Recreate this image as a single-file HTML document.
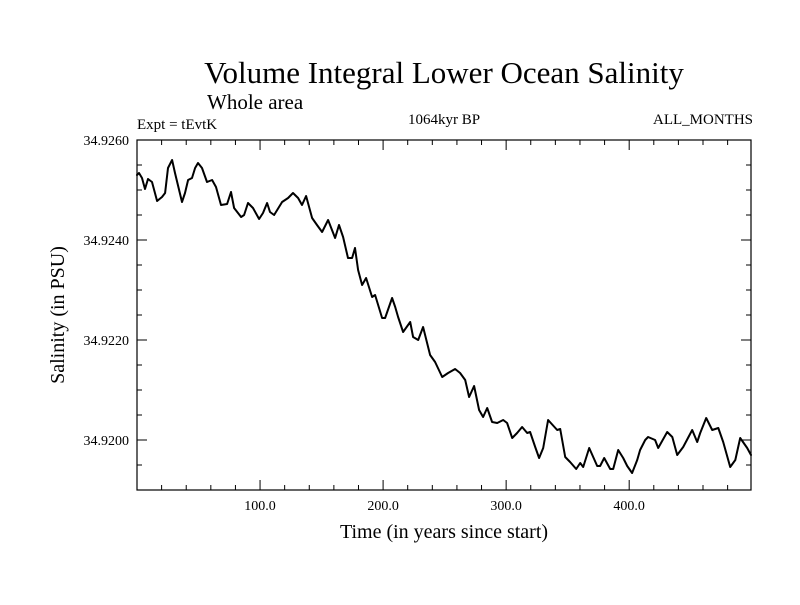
<!DOCTYPE html>
<html><head><meta charset="utf-8"><style>
body{margin:0;background:#fff}
svg text{font-family:"Liberation Serif",serif;fill:#000}
</style></head><body>
<svg id="chart" width="800" height="600">
<text x="444" y="83" font-size="31" text-anchor="middle">Volume Integral Lower Ocean Salinity</text>
<text x="207" y="109" font-size="21">Whole area</text>
<text x="137" y="129" font-size="15">Expt = tEvtK</text>
<text x="444" y="124" font-size="15" text-anchor="middle">1064kyr BP</text>
<text x="753" y="124" font-size="15" text-anchor="end">ALL_MONTHS</text>
<text x="444" y="538" font-size="20" text-anchor="middle">Time (in years since start)</text>
<text transform="translate(64,315) rotate(-90)" font-size="20" text-anchor="middle">Salinity (in PSU)</text>
<g id="axes"></g>
<path id="line" fill="none" stroke="#000" stroke-width="2" stroke-linejoin="round" stroke-linecap="round"/>
</svg>
<script>
const years=[0,1.6,4.1,6.5,8.9,12.2,16.3,20.3,22.8,25.2,28.5,30.9,36.6,39,41.5,44.7,47.2,49.6,52.8,56.9,61,64.2,68.3,73.2,76.4,78.9,84.6,87,90.2,94.3,99.2,102.4,105.7,108.1,111.4,117.9,122.8,126.8,130.9,134.1,137.4,142.3,146.3,150.4,155.3,161,164.2,167.5,171.5,174.8,177.2,179.7,182.9,186.2,191.1,193.5,199.2,201.6,207.3,209.8,212.2,216.3,222,224.4,228.5,232.5,238.2,242.3,248,252.8,258.5,262.6,266.7,269.9,274,278,281.3,284.6,288.6,292.7,297.6,300.8,304.9,308.9,313,317.1,319.5,323.6,326.8,330.1,334.1,341.5,343.9,348,352,356.9,360.2,362.6,367.5,374,376.4,379.7,384.6,387,391.1,395.1,398.4,402.4,406.5,408.9,413,415.4,421.1,423.6,430.9,435,439,443.9,451.2,455.3,457.7,462.6,467.5,472.4,476.4,482.1,486.2,490.2,495.9,499];
const salinity=[34.9253,34.92534,34.92524,34.92502,34.92522,34.92516,34.92478,34.92486,34.92494,34.92544,34.9256,34.92534,34.92476,34.92494,34.9252,34.92524,34.92544,34.92554,34.92544,34.92516,34.9252,34.92506,34.9247,34.92472,34.92496,34.92464,34.92446,34.9245,34.92474,34.92464,34.92442,34.92454,34.92474,34.92456,34.9245,34.92476,34.92484,34.92494,34.92484,34.9247,34.92488,34.92444,34.9243,34.92416,34.9244,34.92404,34.9243,34.92406,34.92364,34.92364,34.92384,34.9234,34.9231,34.92324,34.92286,34.9229,34.92244,34.92244,34.92284,34.92266,34.92246,34.92216,34.92236,34.92206,34.922,34.92226,34.9217,34.92156,34.92126,34.92134,34.92142,34.92134,34.9212,34.92086,34.92108,34.9206,34.92046,34.92064,34.92036,34.92034,34.9204,34.92034,34.92004,34.92014,34.92026,34.92014,34.92016,34.91986,34.91964,34.91984,34.9204,34.9202,34.92022,34.91966,34.91956,34.91942,34.91954,34.91946,34.91984,34.91948,34.91948,34.91964,34.91942,34.91942,34.9198,34.91964,34.91948,34.91934,34.9196,34.9198,34.92,34.92006,34.92,34.91984,34.92016,34.92006,34.9197,34.91986,34.9202,34.91996,34.92014,34.92044,34.9202,34.92024,34.91996,34.91946,34.9196,34.92004,34.91984,34.9197];
const xTicks=[100,200,300,400];
const xTickLabels=["100.0","200.0","300.0","400.0"];
const yTicks=[34.926,34.924,34.922,34.92];
const yTickLabels=["34.9260","34.9240","34.9220","34.9200"];
const X0=137,X1=751,Y0=140,Y1=490,xMin=0,xMax=499,yMin=34.919,yMax=34.926;
const sx=v=>X0+(v-xMin)/(xMax-xMin)*(X1-X0);
const sy=v=>Y1-(v-yMin)/(yMax-yMin)*(Y1-Y0);
const NS="http://www.w3.org/2000/svg";
const g=document.getElementById('axes');
function mk(tag,attrs){const e=document.createElementNS(NS,tag);for(const k in attrs)e.setAttribute(k,attrs[k]);g.appendChild(e);return e;}
const fr=mk('rect',{x:X0,y:Y0,width:X1-X0,height:Y1-Y0,fill:'none',stroke:'#000','stroke-width':1.2});


for(let v=20;v<xMax;v+=20){const L=(v%100===0)?10:5;const x=sx(v);
 const t1=mk('line',{x1:x,x2:x,y1:Y1,y2:Y1-L,stroke:'#000'});
 
 
 const t2=mk('line',{x1:x,x2:x,y1:Y0,y2:Y0+L,stroke:'#000'});
 
 }
for(let i=0;i<=14;i++){const v=yMin+i*0.0005;const L=(i%4===2)?10:5;const y=sy(v);
 const t1=mk('line',{x1:X0,x2:X0+L,y1:y,y2:y,stroke:'#000'});
 
 
 const t2=mk('line',{x1:X1,x2:X1-L,y1:y,y2:y,stroke:'#000'});
 
 }
xTicks.forEach((v,i)=>{const t=mk('text',{x:sx(v),y:Y1+20,'font-size':14,'text-anchor':'middle'});t.textContent=xTickLabels[i];
 
 });
yTicks.forEach((v,i)=>{const t=mk('text',{x:X0-8,y:sy(v)+5,'font-size':14,'text-anchor':'end'});t.textContent=yTickLabels[i];
 
 });
document.getElementById('line').setAttribute('d',years.map((v,i)=>(i?'L':'M')+sx(v).toFixed(1)+','+sy(salinity[i]).toFixed(1)).join(''));
</script>
</body></html>
